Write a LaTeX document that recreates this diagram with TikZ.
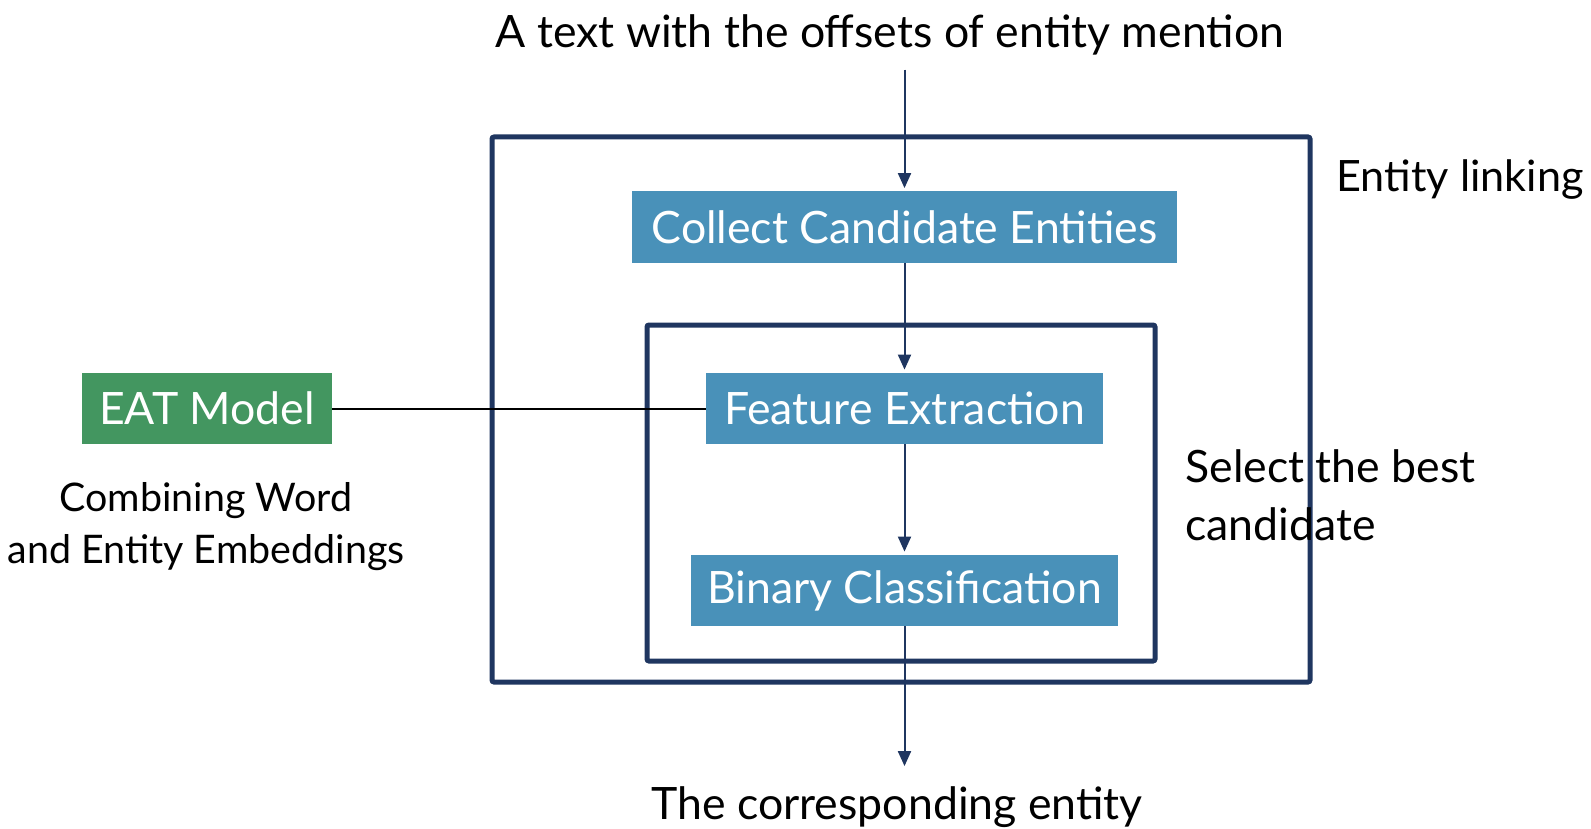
\documentclass[tikz,border=0pt]{standalone}
\usepackage{fontspec}
\setmainfont{Lato}
\usepackage{tikz}
\usetikzlibrary{positioning,arrows.meta}
\definecolor{boxblue}{RGB}{73,145,185}
\definecolor{eatgreen}{RGB}{67,150,96}
\definecolor{navy}{RGB}{31,54,96}
\tikzstyle{procbox}=[fill=boxblue,text=white,font=\fontsize{22.3}{26}\selectfont,minimum height=35.5pt,inner sep=0pt]
\tikzstyle{frame}=[draw=navy,line width=2.5pt,rounded corners=1pt]
\tikzstyle{arr}=[draw=navy,line width=1pt,-{Triangle[width=6.5pt,length=7.5pt]},shorten >=1.5pt]
\tikzstyle{plain}=[font=\fontsize{22.3}{29}\selectfont,inner sep=0pt]

\begin{document}
\begin{tikzpicture}[x=0.5pt,y=-0.5pt]
	\useasboundingbox (0,0) rectangle (1591,829);
	% the two frames
	\node[frame,minimum width=409pt,minimum height=272.5pt] (linking) at (901,409.5) {};
	\node[frame,minimum width=254pt,minimum height=168pt] (select) at (901,493) {};
	% blocks
	\node[procbox,minimum width=272.5pt] (collect) at (904.5,227) {Collect Candidate Entities};
	\node[procbox,minimum width=198.5pt] (feature) at (904.5,408.5) {Feature Extraction};
	\node[procbox,minimum width=213.5pt] (binary) at (904.5,590.5) {Binary Classification};
	\node[procbox,fill=eatgreen,minimum width=125pt] (eat) at (207,408.5) {EAT Model};
	% texts
	\node[plain] (input) at (890,35) {A text with the offsets of entity mention};
	\node[plain,anchor=west,font=\fontsize{21.6}{29}\selectfont] (linklbl) at (1336,180) {Entity linking};
	\node[plain,anchor=west,align=left] (selectlbl) at (1185,495) {Select the best\\candidate};
	\node[plain,align=center,font=\fontsize{19.7}{26}\selectfont] (eatlbl) at (206,527) {Combining Word\\and Entity Embeddings};
	\node[plain] (output) at (897,807) {The corresponding entity};
	% connectors
	\draw[arr,shorten <=7pt] (input.south -| collect.north) -- (collect.north);
	\draw[arr] (collect) -- (feature);
	\draw[arr] (feature) -- (binary);
	\draw[arr,shorten >=10pt] (binary) -- (binary.south |- output.north);
	\draw[line width=1pt] (eat) -- (feature);
\end{tikzpicture}
\end{document}
